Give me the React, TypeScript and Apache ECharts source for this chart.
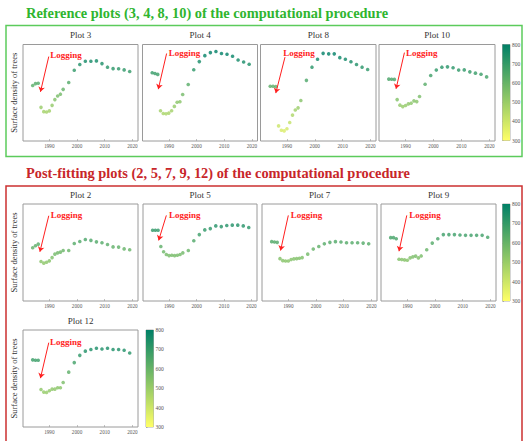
import React, { useEffect, useRef } from "react";
import * as echarts from "echarts";

// ---------- data ----------
const years = [1984, 1985, 1986, 1987, 1988, 1989, 1990, 1991, 1992, 1993, 1994, 1995, 1997, 1999, 2001, 2003, 2005, 2007, 2009, 2011, 2013, 2015, 2017, 2019];

const plot3 = [625, 636, 638, 504, 480, 478, 484, 515, 547, 567, 577, 604, 642, 710, 742, 760, 760, 762, 747, 727, 719, 718, 712, 703];
const plot4 = [696, 692, 687, 485, 470, 468, 472, 485, 509, 532, 535, 575, 631, 713, 758, 791, 808, 814, 803, 799, 788, 767, 756, 743];
const plot8 = [621, 621, 619, 401, 377, 373, 385, 420, 461, 489, 501, 542, 654, 727, 771, 804, 801, 801, 780, 771, 757, 742, 727, 714];
const plot10 = [661, 660, 659, 547, 516, 508, 514, 523, 527, 540, 536, 564, 632, 681, 711, 727, 729, 724, 711, 712, 701, 694, 688, 673];
const plot2 = [611, 622, 631, 535, 526, 531, 539, 557, 576, 583, 587, 596, 596, 635, 646, 657, 652, 644, 639, 629, 616, 615, 605, 600];
const plot5 = [708, 708, 708, 618, 589, 574, 568, 570, 568, 570, 574, 583, 596, 650, 684, 710, 717, 732, 728, 734, 736, 736, 732, 723];
const plot7 = [645, 643, 641, 551, 540, 538, 538, 546, 550, 551, 553, 557, 576, 604, 618, 633, 641, 645, 643, 639, 639, 639, 637, 633];
const plot9 = [667, 667, 661, 548, 546, 544, 542, 555, 561, 565, 555, 566, 600, 637, 661, 684, 684, 684, 682, 680, 680, 680, 680, 669];
const plot12 = [688, 686, 686, 524, 510, 508, 517, 526, 526, 534, 534, 563, 620, 673, 713, 736, 745, 752, 748, 752, 745, 745, 741, 726];

const plotNames = ["Plot 3", "Plot 4", "Plot 8", "Plot 10", "Plot 2", "Plot 5", "Plot 7", "Plot 9", "Plot 12"];
const plotValues = [plot3, plot4, plot8, plot10, plot2, plot5, plot7, plot9, plot12];

const xTicks = [1990, 2000, 2010, 2020];
const colorTicks = [300, 400, 500, 600, 700, 800];

// "Logging" annotation per plot: [textX, textY, arrowStartX, arrowStartY, arrowTipX, arrowTipY]
const logging = [
  [1990.3, 795, 1989.8, 786, 1986.8, 590],
  [1990.0, 806, 1989.2, 803, 1986.2, 605],
  [1988.7, 806, 1989.3, 783, 1986.0, 583],
  [1990.2, 808, 1989.6, 808, 1986.6, 607],
  [1990.5, 794, 1989.8, 788, 1986.6, 589],
  [1990.0, 794, 1989.0, 790, 1986.2, 652],
  [1990.9, 794, 1990.0, 790, 1987.2, 596],
  [1990.7, 794, 1989.8, 790, 1987.0, 592],
  [1990.2, 789, 1989.8, 783, 1986.8, 587],
];

const mainTitles = [
  "Reference plots (3, 4, 8, 10) of the computational procedure",
  "Post-fitting plots (2, 5, 7, 9, 12) of the computational procedure",
];
const yName = "Surface density of trees";

// ---------- layout ----------
const plotGrids = [
  { left: 23, top: 44.5, width: 115, height: 96.5 },
  { left: 142.5, top: 44.5, width: 115, height: 96.5 },
  { left: 260.5, top: 44.5, width: 115.5, height: 96.5 },
  { left: 379, top: 44.5, width: 116, height: 96.5 },
  { left: 23, top: 204, width: 115, height: 97 },
  { left: 143, top: 204, width: 114, height: 97 },
  { left: 262, top: 204, width: 115, height: 97 },
  { left: 381, top: 204, width: 115, height: 97 },
  { left: 23, top: 330, width: 115, height: 97 },
];
const cbGrids = [
  { left: 502.5, top: 44.5, width: 7.5, height: 96 },
  { left: 502.5, top: 204, width: 7.5, height: 97 },
  { left: 146, top: 330, width: 7.5, height: 97 },
];
const leftPlots = [0, 4, 8];

const SERIF = "'Liberation Serif', 'DejaVu Serif', serif";
const C_TOP = "#008066";
const C_BOT = "#ffff66";

export default function App() {
  const ref = useRef<HTMLDivElement>(null);
  useEffect(() => {
    if (!ref.current) return;
    const chart = echarts.init(ref.current, undefined, { renderer: "svg" });

    const grids: any[] = [];
    const xAxes: any[] = [];
    const yAxes: any[] = [];
    const series: any[] = [];
    const titles: any[] = [];

    titles.push({
      text: mainTitles[0], left: 26, top: 5.5, padding: 0,
      textStyle: { fontFamily: SERIF, fontSize: 14.4, fontWeight: "bold", color: "#2fb52f" },
    });
    titles.push({
      text: mainTitles[1], left: 26, top: 165.5, padding: 0,
      textStyle: { fontFamily: SERIF, fontSize: 14.4, fontWeight: "bold", color: "#c8262a" },
    });

    plotGrids.forEach((g, i) => {
      grids.push({ ...g, show: true, borderColor: "#9a9a9a", borderWidth: 1, backgroundColor: "transparent" });
      titles.push({
        text: plotNames[i], left: g.left + g.width / 2, top: g.top - 14, textAlign: "center", padding: 0,
        textStyle: { fontFamily: SERIF, fontSize: 9, fontWeight: "normal", color: "#333" },
      });
      xAxes.push({
        type: "value", gridIndex: i, min: 1980.5, max: 2022,
        axisLine: { show: false },
        axisTick: { show: true, inside: true, length: 2, customValues: xTicks, lineStyle: { color: "#999", width: 0.6 } },
        axisLabel: {
          customValues: xTicks, fontSize: 5.2, margin: 2, color: "#555", fontFamily: SERIF,
          formatter: (v: number) => String(Math.round(v)),
        },
        splitLine: { show: false },
      });
      const isLeft = leftPlots.includes(i);
      yAxes.push({
        type: "value", gridIndex: i, min: 317, max: 853,
        axisLine: { show: false }, axisTick: { show: false }, axisLabel: { show: false }, splitLine: { show: false },
        name: isLeft ? yName : "", nameLocation: "middle", nameGap: 5,
        nameTextStyle: { fontFamily: SERIF, fontSize: 8.5, color: "#333" },
      });
      const a = logging[i];
      series.push({
        type: "scatter", xAxisIndex: i, yAxisIndex: i, symbolSize: 3.6,
        data: years.map((y, k) => [y, plotValues[i][k]]),
        markLine: {
          silent: true, animation: false, symbol: ["none", "arrow"], symbolSize: 5,
          lineStyle: { color: "#ff1f1f", width: 1, type: "solid" },
          label: { show: false },
          data: [[{ coord: [a[2], a[3]] }, { coord: [a[4], a[5]] }]],
        },
        markPoint: {
          silent: true, animation: false, symbol: "circle", symbolSize: 0,
          itemStyle: { color: "transparent" },
          label: { show: true, position: "right", distance: 0, formatter: "Logging", color: "#ff2424", fontSize: 9, fontWeight: "bold", fontFamily: SERIF },
          data: [{ coord: [a[0], a[1]] }],
        },
      });
    });

    cbGrids.forEach((g, j) => {
      const gi = plotGrids.length + j;
      grids.push({ ...g, show: true, borderColor: "#9a9a9a", borderWidth: 0.8 });
      xAxes.push({ type: "value", gridIndex: gi, min: 0, max: 1, show: false });
      yAxes.push({
        type: "value", gridIndex: gi, min: 300, max: 800, interval: 100, position: "right",
        axisLine: { show: false },
        axisTick: { show: true, length: 1.5, lineStyle: { color: "#888", width: 0.6 } },
        axisLabel: { fontSize: 5.5, margin: 2, color: "#555", fontFamily: SERIF, formatter: (v: number) => String(Math.round(v)) },
        splitLine: { show: false },
      });
      series.push({
        type: "custom", xAxisIndex: gi, yAxisIndex: gi, silent: true,
        encode: { x: 0, y: [1, 2] },
        data: [[0, colorTicks[0], colorTicks[colorTicks.length - 1]]],
        renderItem: (params: any, api: any) => {
          const p0 = api.coord([0, api.value(2)]);
          const p1 = api.coord([1, api.value(1)]);
          return {
            type: "rect",
            shape: { x: p0[0], y: p0[1], width: p1[0] - p0[0], height: p1[1] - p0[1] },
            style: {
              fill: new echarts.graphic.LinearGradient(0, 0, 0, 1, [
                { offset: 0, color: C_TOP },
                { offset: 1, color: C_BOT },
              ]),
            },
          };
        },
      });
    });

    chart.setOption({
      animation: false,
      backgroundColor: "#fff",
      title: titles,
      grid: grids,
      xAxis: xAxes,
      yAxis: yAxes,
      visualMap: {
        type: "continuous", show: false, min: 300, max: 800,
        seriesIndex: plotGrids.map((_, i) => i),
        inRange: { color: [C_BOT, C_TOP] },
      },
      graphic: [
        { type: "rect", shape: { x: 6, y: 25.5, width: 516, height: 131 }, style: { fill: "none", stroke: "#5ccb5c", lineWidth: 1.5 }, silent: true },
        { type: "rect", shape: { x: 6, y: 186, width: 516, height: 270 }, style: { fill: "none", stroke: "#cc3030", lineWidth: 1.5 }, silent: true },
      ],
      series,
    });
    return () => chart.dispose();
  }, []);
  return <div ref={ref} style={{ position: "fixed", left: 0, top: 0, width: 525, height: 441 }} />;
}
